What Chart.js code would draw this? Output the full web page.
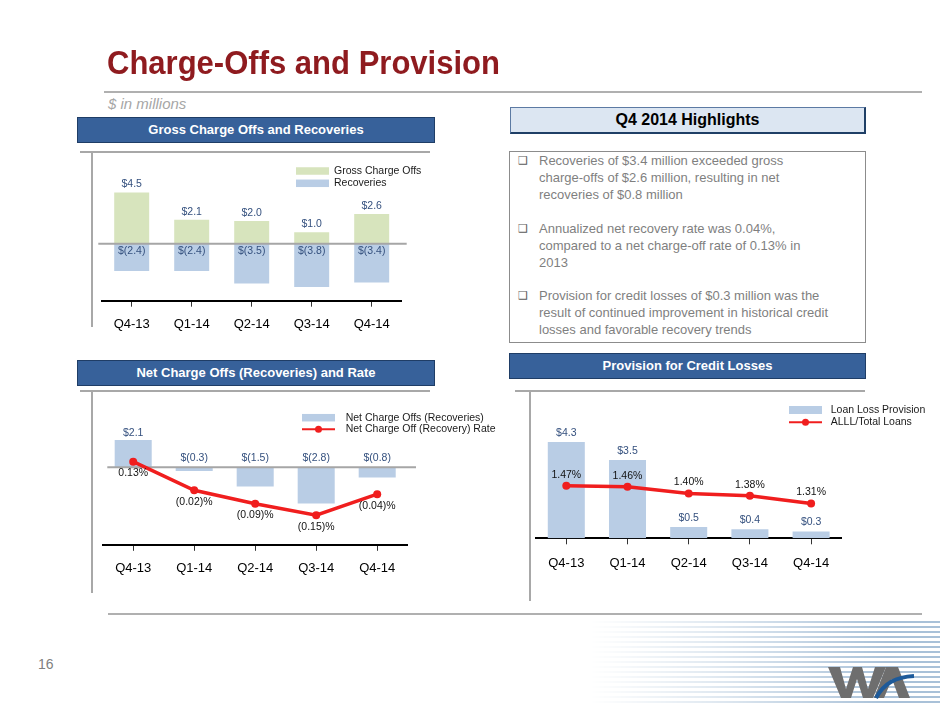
<!DOCTYPE html>
<html>
<head>
<meta charset="utf-8">
<script src="https://cdn.jsdelivr.net/npm/chart.js@4.4.1/dist/chart.umd.min.js"></script>
<style>
  html, body { margin: 0; padding: 0; background: #fff; }
  body { width: 940px; height: 705px; position: relative; overflow: hidden; font-family: "Liberation Sans", Arial, sans-serif; }
  .abs { position: absolute; }
  .title { left: 107px; top: 46px; font-size: 33px; line-height: 33px; font-weight: bold; color: #8F1B1F; white-space: nowrap; transform: scaleX(0.94); transform-origin: left top; }
  .hline { height: 0; border-top: 2px solid #B0B0B0; }
  .sub { left: 108px; top: 96px; font-size: 15px; line-height: 16px; font-style: italic; color: #A6A6A6; }
  .hdr { background: #37619A; border: 1px solid #1F3D66; box-sizing: border-box; color: #fff; font-weight: bold; font-size: 13px; text-align: center; }
  .frame-top { height: 0; border-top: 2px solid #A8A8A8; }
  .frame-left { width: 0; border-left: 2px solid #A8A8A8; }
  .hl-head { left: 510px; top: 107px; width: 356px; height: 27px; box-sizing: border-box; background: #DCE6F2; border: 1px solid #5C7AA3; border-right: 2px solid #1F3F66; border-bottom: 2px solid #1F3F66; font-weight: bold; font-size: 16px; line-height: 24px; text-align: center; color: #000; }
  .hl-box { left: 509px; top: 151px; width: 357px; height: 192px; box-sizing: border-box; border: 1.5px solid #8C8C8C; }
  .para { font-size: 13px; line-height: 17px; color: #7F7F7F; white-space: nowrap; }
  .bul { font-family: "DejaVu Sans", sans-serif; font-size: 11px; line-height: 17px; color: #5A5A5A; }
  canvas { position: absolute; }
  .pg { left: 38px; top: 656px; font-size: 14px; color: #808080; }
  .stripes { left: 590px; top: 618px; width: 350px; height: 87px;
    background: repeating-linear-gradient(to bottom, rgba(255,255,255,0) 0px, rgba(255,255,255,0) 3px, #A9C1D8 3px, #A9C1D8 5px);
    -webkit-mask-image: linear-gradient(to right, rgba(0,0,0,0) 0%, rgba(0,0,0,0.35) 35%, rgba(0,0,0,1) 85%);
    mask-image: linear-gradient(to right, rgba(0,0,0,0) 0%, rgba(0,0,0,0.35) 35%, rgba(0,0,0,1) 85%); }
</style>
</head>
<body>
<div class="abs title">Charge-Offs and Provision</div>
<div class="abs hline" style="left:104px; top:91px; width:818px;"></div>
<div class="abs sub">$ in millions</div>

<div class="abs hdr" style="left:77px; top:117px; width:358px; height:26px; line-height:24px;">Gross Charge Offs and Recoveries</div>
<div class="abs frame-top" style="left:80px; top:150.5px; width:350px;"></div>
<div class="abs frame-left" style="left:90.5px; top:151px; height:176px;"></div>

<div class="abs hdr" style="left:77px; top:360px; width:358px; height:26px; line-height:24px;">Net Charge Offs (Recoveries) and Rate</div>
<div class="abs frame-top" style="left:80px; top:389.5px; width:350px;"></div>
<div class="abs frame-left" style="left:90.5px; top:390px; height:203px;"></div>

<div class="abs hl-head">Q4 2014 Highlights</div>
<div class="abs hl-box"></div>
<div class="abs bul" style="left:518px; top:152px;">❑</div>
<div class="abs para" style="left:539px; top:152px;">Recoveries of $3.4 million exceeded gross<br>charge-offs of $2.6 million, resulting in net<br>recoveries of $0.8 million</div>
<div class="abs bul" style="left:518px; top:219.5px;">❑</div>
<div class="abs para" style="left:539px; top:219.5px;">Annualized net recovery rate was 0.04%,<br>compared to a net charge-off rate of 0.13% in<br>2013</div>
<div class="abs bul" style="left:518px; top:287px;">❑</div>
<div class="abs para" style="left:539px; top:287px;">Provision for credit losses of $0.3 million was the<br>result of continued improvement in historical credit<br>losses and favorable recovery trends</div>

<div class="abs hdr" style="left:509px; top:353px; width:357px; height:26px; line-height:24px;">Provision for Credit Losses</div>
<div class="abs frame-top" style="left:515px; top:389.5px; width:350px;"></div>
<div class="abs frame-left" style="left:529px; top:390px; height:211px;"></div>

<div class="abs hline" style="left:108px; top:613px; width:814px;"></div>
<div class="abs pg">16</div>
<div class="abs stripes"></div>
<svg class="abs" style="left:820px; top:655px;" width="110" height="50" viewBox="0 0 110 50">
  <polygon points="8,12 20,12 26,34 33,12 42,12 48,34 55,12 66,12 53,43 43,43 37,24 31,43 21,43" fill="#6E6E6E"/>
  <polygon points="66,12 78,12 90,43 79,43 72,24 64,43 54,43" fill="#6E6E6E"/>
  <path d="M56,43 C64,28 76,22 94,21" stroke="#1D5A9A" stroke-width="4" fill="none"/>
</svg>

<canvas id="c1" width="340" height="180" style="left:92px; top:152px; width:340px; height:180px;"></canvas>
<canvas id="c2" width="420" height="190" style="left:92px; top:391px; width:420px; height:190px;"></canvas>
<canvas id="c3" width="409" height="190" style="left:531px; top:391px; width:409px; height:190px;"></canvas>

<script>
// ---------- data ----------
const quarters = ['Q4-13', 'Q1-14', 'Q2-14', 'Q3-14', 'Q4-14'];
const grossChargeOffs = [4.5, 2.1, 2.0, 1.0, 2.6];
const recoveries = [-2.4, -2.4, -3.5, -3.8, -3.4];
const netChargeOffs = [2.1, -0.3, -1.5, -2.8, -0.8];
const netChargeOffRate = [0.13, -0.02, -0.09, -0.15, -0.04];
const loanLossProvision = [4.3, 3.5, 0.5, 0.4, 0.3];
const allllToTotalLoans = [1.47, 1.46, 1.40, 1.38, 1.31];

// ---------- styles ----------
const FONT = '"Liberation Sans", Arial, sans-serif';
const GREEN = '#D7E4BD';
const BLUE = '#B9CDE5';
const RED = '#F01E1E';
const LABEL_BLUE = '#34507E';
Chart.defaults.font.family = FONT;

const fmtMoney = v => v < 0 ? '$(' + Math.abs(v).toFixed(1) + ')' : '$' + v.toFixed(1);
const fmtPct = v => v < 0 ? '(' + Math.abs(v).toFixed(2) + ')%' : v.toFixed(2) + '%';

function xScale(opts) {
  return {
    stacked: !!opts.stacked,
    offset: true,
    grid: { display: true, drawOnChartArea: false, drawTicks: true, tickLength: 6, tickWidth: 1, tickColor: '#333', offset: false },
    border: { display: true, color: '#000', width: 2 },
    ticks: { color: '#000', font: { size: 13, family: FONT }, padding: opts.tickPad, maxRotation: 0, autoSkip: false },
    afterFit: s => { s.height = opts.axisH; }
  };
}

function legendPlugin(items) {
  return {
    id: 'customLegend',
    afterDraw(chart) {
      const ctx = chart.ctx;
      ctx.save();
      ctx.font = '10.5px ' + FONT;
      ctx.textBaseline = 'middle';
      ctx.textAlign = 'left';
      items.forEach(it => {
        const ds = chart.data.datasets[it.ds];
        if (it.kind === 'box') {
          ctx.fillStyle = ds.backgroundColor;
          ctx.fillRect(it.x, it.y - it.h / 2, it.w, it.h);
        } else {
          ctx.strokeStyle = ds.borderColor;
          ctx.lineWidth = 2;
          ctx.beginPath(); ctx.moveTo(it.x, it.y); ctx.lineTo(it.x + it.w, it.y); ctx.stroke();
          ctx.fillStyle = ds.borderColor;
          ctx.beginPath(); ctx.arc(it.x + it.w / 2, it.y, 3.5, 0, Math.PI * 2); ctx.fill();
        }
        ctx.fillStyle = '#1A1A1A';
        ctx.fillText(ds.label, it.tx, it.y);
      });
      ctx.restore();
    }
  };
}

function zeroLinePlugin(x0off, x1off) {
  const draw = chart => {
    const ctx = chart.ctx, y = chart.scales.y.getPixelForValue(0);
    ctx.save();
    ctx.strokeStyle = '#A6A6A6'; ctx.lineWidth = 2;
    ctx.beginPath();
    ctx.moveTo(chart.chartArea.left + x0off, y);
    ctx.lineTo(chart.chartArea.right + x1off, y);
    ctx.stroke();
    ctx.restore();
  };
  return {
    id: 'zeroLine',
    beforeDatasetDraw(chart, args) { if (args.meta.type === 'line') draw(chart); },
    afterDatasetsDraw(chart) { if (!chart.data.datasets.some(d => d.type === 'line')) draw(chart); }
  };
}

function labelPlugin(rules) {
  return {
    id: 'valueLabels',
    afterDatasetsDraw(chart) {
      const ctx = chart.ctx;
      ctx.save();
      ctx.font = '10.5px ' + FONT;
      ctx.textAlign = 'center';
      ctx.textBaseline = 'middle';
      rules.forEach(r => {
        const meta = chart.getDatasetMeta(r.ds);
        const data = chart.data.datasets[r.ds].data;
        const yScale = chart.scales[meta.yAxisID];
        meta.data.forEach((el, i) => {
          const v = data[i];
          let y;
          if (r.pos === 'bar') {
            const zero = yScale.getPixelForValue(0);
            y = v >= 0 ? el.y - r.above : zero + (r.negBelowZero !== undefined ? r.negBelowZero : 0);
          } else if (r.pos === 'pointBelow') {
            y = el.y + r.off;
          } else {
            y = el.y - r.off;
          }
          ctx.fillStyle = r.color;
          ctx.fillText(r.fmt(v), el.x, y);
        });
      });
      ctx.restore();
    }
  };
}

// ---------- Chart 1: Gross charge offs and recoveries ----------
new Chart(document.getElementById('c1'), {
  type: 'bar',
  data: {
    labels: quarters,
    datasets: [
      { label: 'Gross Charge Offs', data: grossChargeOffs, backgroundColor: GREEN, barPercentage: 0.583, categoryPercentage: 1 },
      { label: 'Recoveries', data: recoveries, backgroundColor: BLUE, barPercentage: 0.583, categoryPercentage: 1 }
    ]
  },
  options: {
    responsive: false, animation: false,
    layout: { padding: { left: 9.7, right: 30.3, top: 23.3, bottom: 0 } },
    plugins: { legend: { display: false }, tooltip: { enabled: false } },
    scales: {
      x: xScale({ stacked: true, tickPad: 10, axisH: 31.3 }),
      y: { display: false, stacked: true, min: -5, max: 6 }
    }
  },
  plugins: [
    zeroLinePlugin(-3.4, 5),
    labelPlugin([
      { ds: 0, pos: 'bar', above: 8, color: LABEL_BLUE, fmt: fmtMoney },
      { ds: 1, pos: 'bar', above: 8, negBelowZero: 7, color: LABEL_BLUE, fmt: fmtMoney }
    ]),
    legendPlugin([
      { ds: 0, kind: 'box', x: 204, y: 19, w: 33, h: 7.5, tx: 242 },
      { ds: 1, kind: 'box', x: 204, y: 31.3, w: 33, h: 7.5, tx: 242 }
    ])
  ]
});

// ---------- Chart 2: Net charge offs and rate ----------
new Chart(document.getElementById('c2'), {
  type: 'bar',
  data: {
    labels: quarters,
    datasets: [
      { type: 'bar', label: 'Net Charge Offs (Recoveries)', data: netChargeOffs, backgroundColor: BLUE, barPercentage: 0.607, categoryPercentage: 1, order: 1, yAxisID: 'y' },
      { type: 'line', label: 'Net Charge Off (Recovery) Rate', data: netChargeOffRate, borderColor: RED, backgroundColor: RED, borderWidth: 3.5,
        pointRadius: 4, pointBackgroundColor: RED, pointBorderWidth: 0, tension: 0, order: 0, yAxisID: 'y2' }
    ]
  },
  options: {
    responsive: false, animation: false,
    layout: { padding: { left: 10.7, right: 104.3, top: 24.4, bottom: 0 } },
    plugins: { legend: { display: false }, tooltip: { enabled: false } },
    scales: {
      x: xScale({ tickPad: 10, axisH: 36.2 }),
      y: { display: false, min: -6, max: 4 },
      y2: { display: false, min: -0.305, max: 0.372 }
    }
  },
  plugins: [
    zeroLinePlugin(4.6, 8.3),
    labelPlugin([
      { ds: 0, pos: 'bar', above: 7, negBelowZero: -8.7, color: LABEL_BLUE, fmt: fmtMoney },
      { ds: 1, pos: 'pointBelow', off: 11.5, color: '#111', fmt: fmtPct }
    ]),
    legendPlugin([
      { ds: 0, kind: 'box', x: 210, y: 26.7, w: 33, h: 7.5, tx: 253.7 },
      { ds: 1, kind: 'line', x: 210, y: 38.3, w: 33, tx: 253.7 }
    ])
  ]
});

// ---------- Chart 3: Provision for credit losses ----------
new Chart(document.getElementById('c3'), {
  type: 'bar',
  data: {
    labels: quarters,
    datasets: [
      { type: 'bar', label: 'Loan Loss Provision', data: loanLossProvision, backgroundColor: BLUE, barPercentage: 0.605, categoryPercentage: 1, order: 1, yAxisID: 'y' },
      { type: 'line', label: 'ALLL/Total Loans', data: allllToTotalLoans, borderColor: RED, backgroundColor: RED, borderWidth: 3.5,
        pointRadius: 4, pointBackgroundColor: RED, pointBorderWidth: 0, tension: 0, order: 0, yAxisID: 'y2' }
    ]
  },
  options: {
    responsive: false, animation: false,
    layout: { padding: { left: 4.7, right: 98.3, top: 35.3, bottom: 0 } },
    plugins: { legend: { display: false }, tooltip: { enabled: false } },
    scales: {
      x: xScale({ tickPad: 11.6, axisH: 42.7 }),
      y: { display: false, min: 0, max: 5 },
      y2: { display: false, min: 1.0, max: 2.0 }
    }
  },
  plugins: [
    labelPlugin([
      { ds: 0, pos: 'bar', above: 9, color: LABEL_BLUE, fmt: fmtMoney },
      { ds: 1, pos: 'pointAbove', off: 11, color: '#111', fmt: fmtPct }
    ]),
    legendPlugin([
      { ds: 0, kind: 'box', x: 258, y: 19, w: 33, h: 8, tx: 299.7 },
      { ds: 1, kind: 'line', x: 258, y: 31.3, w: 33, tx: 299.7 }
    ])
  ]
});
</script>
</body>
</html>
